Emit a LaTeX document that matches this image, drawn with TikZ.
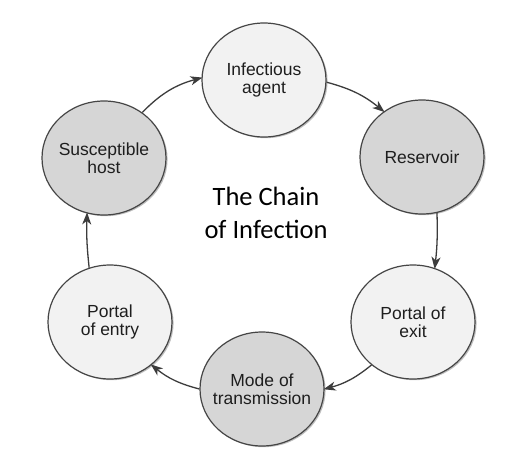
\documentclass[tikz,border=0pt]{standalone}
\usepackage{fontspec}
\setmainfont{Liberation Sans}
\newfontfamily\calibfont{Carlito}
\usetikzlibrary{shapes.geometric,shadows,arrows.meta}
\definecolor{lightf}{HTML}{F2F2F2}
\definecolor{darkf}{HTML}{D6D6D6}
\definecolor{edgec}{HTML}{454545}
\definecolor{txtc}{HTML}{1E1E1E}
\definecolor{arrc}{HTML}{3C3C3C}
\tikzset{
  stage/.style={ellipse, draw=edgec, line width=1.2pt, minimum width=124pt,
    minimum height=114pt, inner sep=0pt,
    drop shadow={shadow xshift=1.6pt, shadow yshift=-1.2pt, fill=black, opacity=0.25}},
  lightstage/.style={stage, fill=lightf},
  darkstage/.style={stage, fill=darkf},
  lbl/.style={align=center, font=\fontsize{17.5}{18.5}\selectfont, text=txtc},
  link/.style={draw=arrc, line width=1.3pt, -{Stealth[length=12pt,width=9pt,inset=3.5pt]}, shorten >=-1pt},
  title/.style={align=center, font=\calibfont\fontsize{26.5}{32.5}\selectfont, text=black}
}
\begin{document}
\begin{tikzpicture}[x=1pt,y=-1pt]
\useasboundingbox[fill=white] (0,0) rectangle (514,456);
\node[lightstage, label={[lbl]center:Infectious\\agent}] (agent) at (264,80) {};
\node[darkstage, label={[lbl]center:Reservoir}] (reservoir) at (422,157) {};
\node[lightstage, label={[lbl]center:Portal of\\exit}] (exit) at (413,322) {};
\node[darkstage, label={[lbl]center:Mode of\\transmission}] (mode) at (262,389) {};
\node[lightstage, label={[lbl]center:Portal\\of entry}] (entry) at (110,322) {};
\node[darkstage, label={[lbl]center:Susceptible\\host}] (host) at (104,158) {};
\node[title] (ttl) at (266,213) {The Chain\\of Infection};
\draw[link] (host.50) to[bend left=15] (agent.178);
\draw[link] (agent.-2) to[bend left=12] (reservoir.130);
\draw[link] (reservoir.-75) to[bend left=4] (exit.68);
\draw[link] (exit.226) to[bend left=12] (mode.0);
\draw[link] (mode.180) to[bend left=12] (entry.-46);
\draw[link] (entry.111) to[bend left=4] (host.253);
\end{tikzpicture}
\end{document}
